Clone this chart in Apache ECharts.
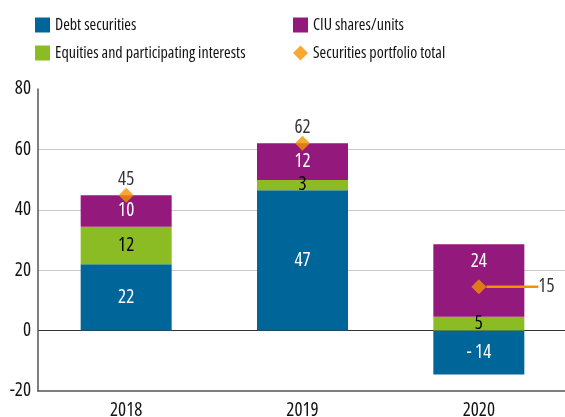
<!DOCTYPE html>
<html><head><meta charset="utf-8">
<script src="https://cdn.jsdelivr.net/npm/echarts@6/dist/echarts.min.js"></script>
<style>html,body{margin:0;padding:0;background:#fff}#c{width:565px;height:417px}</style>
</head><body><div id="c"></div>
<script>
const categories = ['2018', '2019', '2020'];
const debtSecurities = [22, 46.5, -14.5];
const equities = [12.4, 3.4, 4.6];
const ciuShares = [10.4, 12.1, 24];
const portfolioTotal = [44.8, 62, 14.5];
const yTicks = {min: -20, max: 80, interval: 20};

const FONT = '"Open Sans", sans-serif';
const STRETCH = 'condensed';
const C_BLUE = '#006699', C_GREEN = '#8cbc24', C_PURPLE = '#94197c', C_ORANGE = '#f39200';
const fmt = p => { const v = Math.round(p.value); return v < 0 ? '- ' + Math.abs(v) : String(v); };
const txt = (size, color) => ({fontFamily: FONT, fontSize: size, fontWeight: STRETCH, fontStyle: 'normal', color});

function barSeries(name, data, color, textColor, itemLabel) {
  return {
    name, type: 'bar', stack: 'total', barWidth: 91,
    data: data.map((v, i) => itemLabel && itemLabel[i] ? {value: v, label: itemLabel[i]} : v),
    itemStyle: {color},
    label: Object.assign({show: true, position: 'inside', formatter: fmt}, txt(19, textColor)),
    emphasis: {disabled: true}
  };
}

const legendBase = {
  top: 16, orient: 'vertical', padding: 0, itemWidth: 15, itemHeight: 15, itemGap: 10,
  textStyle: Object.assign(txt(16, '#111'), {lineHeight: 18}), selectedMode: false
};

const chart = echarts.init(document.getElementById('c'), null, {renderer: 'canvas'});
chart.setOption({
  animation: false,
  textStyle: {fontFamily: FONT},
  legend: [
    Object.assign({left: 35,
      data: [{name: 'Debt securities', icon: 'rect'}, {name: 'Equities and participating interests', icon: 'rect'}]}, legendBase),
    Object.assign({left: 293,
      data: [{name: 'CIU shares/units', icon: 'rect'}, {name: 'Securities portfolio total', icon: 'diamond'}]}, legendBase)
  ],
  grid: {left: 38, top: 89, bottom: 26, width: 529, containLabel: false, outerBoundsMode: 'none'},
  xAxis: {
    type: 'category', data: categories,
    axisLine: {onZero: false, lineStyle: {color: '#555', width: 1.5}},
    axisTick: {show: false},
    axisLabel: Object.assign({margin: 10}, txt(19, '#111'))
  },
  yAxis: {
    type: 'value', min: yTicks.min, max: yTicks.max, interval: yTicks.interval,
    axisLine: {show: true, lineStyle: {color: '#555', width: 1.5}},
    axisTick: {show: false},
    axisLabel: Object.assign({margin: 7}, txt(19, '#111')),
    splitLine: {show: true, showMinLine: false, showMaxLine: false,
      lineStyle: {color: ['#333', '#c8c8c8', '#c8c8c8', '#c8c8c8'], width: 1.2}}
  },
  series: [
    barSeries('Debt securities', debtSecurities, C_BLUE, '#fff'),
    barSeries('Equities and participating interests', equities, C_GREEN, '#000'),
    barSeries('CIU shares/units', ciuShares, C_PURPLE, '#fff', [null, null, {position: 'insideTop', distance: 8}]),
    {
      name: 'Securities portfolio total', type: 'scatter', symbol: 'diamond', symbolSize: 15,
      itemStyle: {color: C_ORANGE}, z: 5,
      data: portfolioTotal.map((v, i) => i === 2
        ? {value: v, label: {position: 'right', distance: 2}, labelLine: {show: true}}
        : {value: v, labelLine: {show: false}}),
      label: Object.assign({show: true, position: 'top', distance: -1, formatter: fmt}, txt(19, '#000')),
      labelLine: {show: true, lineStyle: {color: C_ORANGE, width: 2.5}},
      labelLayout: p => p.dataIndex === 2 ? {dx: 50} : {},
      emphasis: {disabled: true}
    }
  ]
});
</script></body></html>
